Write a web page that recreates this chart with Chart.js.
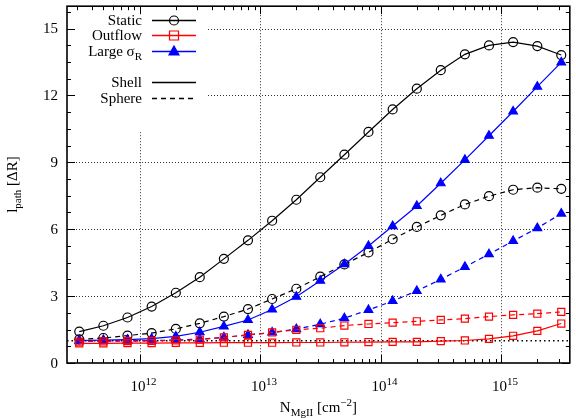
<!DOCTYPE html>
<html>
<head>
<meta charset="utf-8">
<script src="https://cdn.jsdelivr.net/npm/chart.js@4.4.1/dist/chart.umd.min.js"></script>
<style>html,body{margin:0;padding:0;background:#fff}canvas{display:block}</style>
</head>
<body>
<canvas id="c" width="576" height="418"></canvas>
<script>
// column density grid (cm^-2)
const columnDensity = [3.16e11, 5.01e11, 7.94e11, 1.26e12, 2.00e12, 3.16e12, 5.01e12, 7.94e12,
  1.26e13, 2.00e13, 3.16e13, 5.01e13, 7.94e13, 1.26e14, 2.00e14, 3.16e14, 5.01e14, 7.94e14,
  1.26e15, 2.00e15, 3.16e15];

const staticShell   = [1.41, 1.67, 2.04, 2.53, 3.15, 3.85, 4.67, 5.50, 6.38, 7.32, 8.33, 9.34, 10.36, 11.37, 12.30, 13.13, 13.84, 14.24, 14.39, 14.21, 13.81];
const staticSphere  = [1.06, 1.12, 1.23, 1.34, 1.53, 1.78, 2.08, 2.42, 2.87, 3.33, 3.87, 4.42, 4.96, 5.55, 6.10, 6.62, 7.11, 7.48, 7.77, 7.86, 7.81];
const outflowShell  = [0.88, 0.88, 0.89, 0.89, 0.90, 0.90, 0.91, 0.91, 0.91, 0.92, 0.92, 0.93, 0.94, 0.95, 0.95, 0.98, 1.01, 1.08, 1.22, 1.44, 1.77];
const outflowSphere = [0.96, 0.97, 0.98, 0.99, 1.01, 1.05, 1.15, 1.26, 1.37, 1.49, 1.56, 1.68, 1.75, 1.81, 1.87, 1.93, 1.99, 2.08, 2.16, 2.21, 2.29];
const largeShell    = [1.01, 1.03, 1.05, 1.09, 1.19, 1.38, 1.64, 1.93, 2.40, 2.97, 3.69, 4.43, 5.25, 6.14, 7.04, 8.06, 9.11, 10.19, 11.28, 12.39, 13.48];
const largeSphere   = [0.98, 0.99, 1.00, 1.01, 1.03, 1.07, 1.15, 1.26, 1.37, 1.52, 1.74, 2.01, 2.38, 2.78, 3.23, 3.75, 4.31, 4.88, 5.47, 6.05, 6.70];

const refLevel = 1;
const yTicks = [0, 3, 6, 9, 12, 15];
const xDecades = [1e12, 1e13, 1e14, 1e15];
const xTickExp = ['12', '13', '14', '15'];

const FONT = '"Liberation Serif", "DejaVu Serif", serif';
const RED = '#ff0000', BLUE = '#0000ff', BLACK = '#000000';
const DASH = [5, 4];

function pts(vals) {
  return vals.map((v, i) => ({ x: columnDensity[i], y: v }));
}

function series(vals, color, marker, dashed) {
  return {
    data: pts(vals),
    borderColor: color,
    borderWidth: 1.2,
    borderDash: dashed ? DASH : [],
    pointStyle: marker,
    pointRadius: marker === 'triangle' ? 5 : (marker === 'rect' ? 5 : 4.5),
    pointBorderWidth: 1.2,
    pointBorderColor: color,
    pointBackgroundColor: marker === 'triangle' ? color : 'rgba(0,0,0,0)',
    tension: 0,
    fill: false
  };
}

// text with sub/superscripts
function richText(ctx, parts, x, y, align) {
  const sizes = { n: 15, s: 11 };
  let w = 0;
  parts.forEach(p => {
    ctx.font = (p.s ? sizes.s : sizes.n) + 'px ' + FONT;
    p.w = ctx.measureText(p.t).width;
    w += p.w;
  });
  let cx = align === 'right' ? x - w : (align === 'center' ? x - w / 2 : x);
  ctx.textAlign = 'left';
  ctx.textBaseline = 'alphabetic';
  parts.forEach(p => {
    ctx.font = (p.s ? sizes.s : sizes.n) + 'px ' + FONT;
    const dy = p.s === 'sub' ? 4 : (p.s === 'sup' ? -6 : 0);
    ctx.fillText(p.t, cx, y + dy);
    cx += p.w;
  });
}

function marker(ctx, type, x, y, color) {
  ctx.save();
  ctx.setLineDash([]);
  ctx.strokeStyle = color;
  ctx.fillStyle = color;
  ctx.lineWidth = 1.2;
  ctx.beginPath();
  if (type === 'circle') {
    ctx.arc(x, y, 4.5, 0, Math.PI * 2);
    ctx.stroke();
  } else if (type === 'rect') {
    ctx.rect(x - 4.5, y - 4.5, 9, 9);
    ctx.stroke();
  } else {
    ctx.moveTo(x, y - 5.5);
    ctx.lineTo(x + 5, y + 3.5);
    ctx.lineTo(x - 5, y + 3.5);
    ctx.closePath();
    ctx.fill();
    ctx.stroke();
  }
  ctx.restore();
}

const frame = {
  id: 'frame',
  beforeDatasetsDraw(chart) {
    const { ctx, chartArea: a, scales: { x, y } } = chart;
    ctx.save();
    // dotted grid
    ctx.strokeStyle = '#333';
    ctx.lineWidth = 1;
    ctx.setLineDash([1, 2]);
    xDecades.forEach(v => {
      const px = Math.round(x.getPixelForValue(v)) + 0.5;
      ctx.beginPath(); ctx.moveTo(px, a.top); ctx.lineTo(px, a.bottom); ctx.stroke();
    });
    yTicks.forEach(v => {
      if (v === 0) return;
      const py = Math.round(y.getPixelForValue(v)) + 0.5;
      ctx.beginPath(); ctx.moveTo(a.left, py); ctx.lineTo(a.right, py); ctx.stroke();
    });
    // reference level
    ctx.strokeStyle = BLACK;
    ctx.lineWidth = 1.5;
    ctx.setLineDash([1.5, 3]);
    const ry = y.getPixelForValue(refLevel);
    ctx.beginPath(); ctx.moveTo(a.left, ry); ctx.lineTo(a.right, ry); ctx.stroke();
    // legend backdrop
    ctx.setLineDash([]);
    ctx.fillStyle = '#fff';
    ctx.fillRect(a.left + 1, a.top + 1, 139, 124);
    ctx.restore();
  },
  afterDatasetsDraw(chart) {
    const { ctx, chartArea: a, scales: { x, y } } = chart;
    ctx.save();
    ctx.strokeStyle = BLACK;
    ctx.fillStyle = BLACK;
    ctx.setLineDash([]);
    ctx.lineWidth = 1;
    // ticks
    const hTick = (py, len) => {
      ctx.beginPath();
      ctx.moveTo(a.left, py); ctx.lineTo(a.left + len, py);
      ctx.moveTo(a.right, py); ctx.lineTo(a.right - len, py);
      ctx.stroke();
    };
    const vTick = (px, len) => {
      ctx.beginPath();
      ctx.moveTo(px, a.bottom); ctx.lineTo(px, a.bottom - len);
      ctx.moveTo(px, a.top); ctx.lineTo(px, a.top + len);
      ctx.stroke();
    };
    for (let v = 0; v <= y.max; v += 0.75) {
      const major = yTicks.includes(v);
      hTick(Math.round(y.getPixelForValue(v)) + 0.5, major ? 8 : 4);
    }
    for (let d = 11; d <= 15; d++) {
      for (let k = 1; k <= 9; k++) {
        const v = k * Math.pow(10, d);
        if (v < x.min || v > x.max) continue;
        vTick(Math.round(x.getPixelForValue(v)) + 0.5, k === 1 ? 8 : 4);
      }
    }
    // border
    ctx.lineWidth = 1.6;
    ctx.strokeRect(a.left, a.top, a.right - a.left, a.bottom - a.top);

    // tick labels
    ctx.font = '15px ' + FONT;
    ctx.textAlign = 'right';
    ctx.textBaseline = 'middle';
    yTicks.forEach(v => ctx.fillText(String(v), a.left - 9, y.getPixelForValue(v) + 1));
    xDecades.forEach((v, i) => {
      richText(ctx, [{ t: '10' }, { t: xTickExp[i], s: 'sup' }], x.getPixelForValue(v) + 4, a.bottom + 28, 'center');
    });

    // axis titles
    richText(ctx, [{ t: 'N' }, { t: 'MgII', s: 'sub' }, { t: ' [cm' }, { t: '\u22122', s: 'sup' }, { t: ']' }],
      (a.left + a.right) / 2, 412, 'center');
    ctx.save();
    ctx.translate(17, (a.top + a.bottom) / 2);
    ctx.rotate(-Math.PI / 2);
    richText(ctx, [{ t: 'l' }, { t: 'path', s: 'sub' }, { t: ' [\u0394R]' }], 0, 0, 'center');
    ctx.restore();

    // legend
    const tx = 142, l0 = 152, l1 = 196, mx = 174;
    const rows = [
      { y: 20, parts: [{ t: 'Static' }], color: BLACK, m: 'circle', dash: [] },
      { y: 35, parts: [{ t: 'Outflow' }], color: RED, m: 'rect', dash: [] },
      { y: 51, parts: [{ t: 'Large \u03c3' }, { t: 'R', s: 'sub' }], color: BLUE, m: 'triangle', dash: [] },
      { y: 82, parts: [{ t: 'Shell' }], color: BLACK, m: null, dash: [] },
      { y: 98, parts: [{ t: 'Sphere' }], color: BLACK, m: null, dash: DASH }
    ];
    rows.forEach(r => {
      ctx.fillStyle = BLACK;
      richText(ctx, r.parts, tx, r.y + 5, 'right');
      ctx.strokeStyle = r.color;
      ctx.lineWidth = 1.4;
      ctx.setLineDash(r.dash);
      ctx.beginPath(); ctx.moveTo(l0, r.y + 0.5); ctx.lineTo(l1, r.y + 0.5); ctx.stroke();
      if (r.m) marker(ctx, r.m, mx, r.y + 0.5, r.color);
    });
    ctx.restore();
  }
};

new Chart(document.getElementById('c').getContext('2d'), {
  type: 'line',
  data: {
    datasets: [
      series(outflowShell, RED, 'rect', false),
      series(outflowSphere, RED, 'rect', true),
      series(largeSphere, BLUE, 'triangle', true),
      series(largeShell, BLUE, 'triangle', false),
      series(staticSphere, BLACK, 'circle', true),
      series(staticShell, BLACK, 'circle', false)
    ]
  },
  options: {
    responsive: false,
    animation: false,
    devicePixelRatio: 1,
    layout: { padding: { left: 67, right: 3, top: 5, bottom: 55 } },
    plugins: { legend: { display: false }, tooltip: { enabled: false } },
    scales: {
      x: { type: 'logarithmic', min: 2.5e11, max: 3.72e15, display: false },
      y: { type: 'linear', min: 0, max: 16, display: false }
    }
  },
  plugins: [frame]
});
</script>
</body>
</html>
